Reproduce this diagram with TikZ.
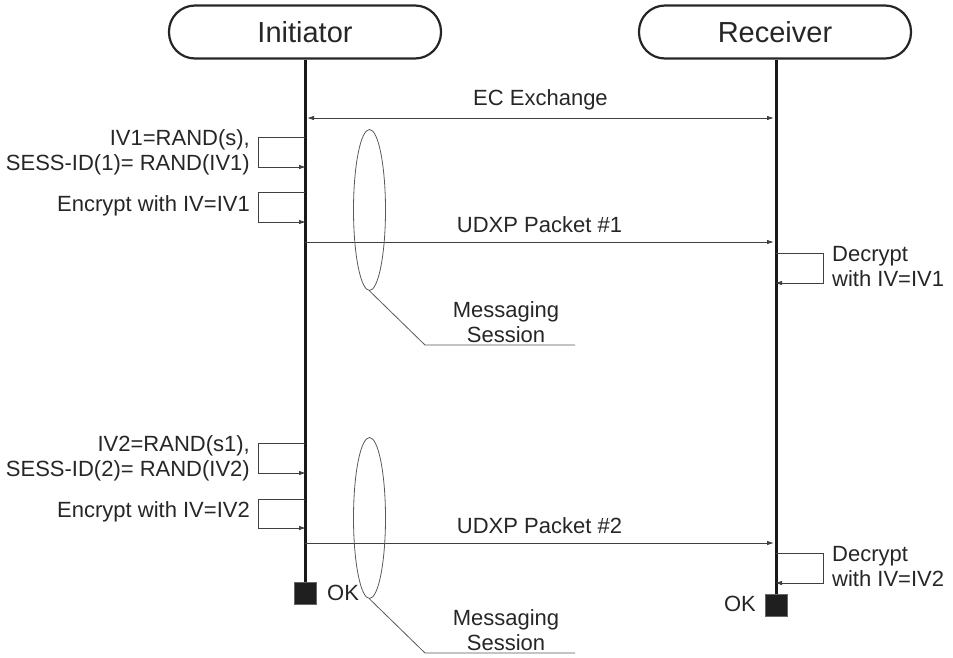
\documentclass[tikz,border=0pt]{standalone}
\usepackage{fontspec}
\setmainfont{Liberation Sans}
\usetikzlibrary{positioning,shapes.geometric,arrows.meta}

\begin{document}
\begin{tikzpicture}[x=1pt,y=-1pt,
  font=\fontsize{22}{25}\selectfont, text=black!85,
  party/.style={draw=black!85, line width=2.2pt, rounded corners=26pt,
    minimum width=272pt, minimum height=53pt, font=\fontsize{29}{32}\selectfont},
  life/.style={draw=black!90, line width=3pt},
  msg/.style={draw=black!75, line width=0.9pt, -{Latex[length=7pt,width=4.5pt]}},
  okbox/.style={fill=black!88, draw=black!60, minimum size=22pt, inner sep=0pt},
  sess/.style={draw=black!65, line width=0.8pt, ellipse, minimum width=32pt,
    minimum height=161pt, inner sep=0pt},
  lead/.style={draw=black!65, line width=0.8pt},
  note/.style={align=right, anchor=east, inner sep=0pt},
  rnote/.style={align=left, anchor=west, inner sep=0pt}]
\useasboundingbox (0,0) rectangle (953,657);

\def\xini{305}
\def\xrec{776}
\def\dloop{47}

% parties
\node[party] (ini) at (\xini,32) {Initiator};
\node[party] (rec) at (775,32) {Receiver};
\node[okbox] (iniend) at (\xini,593) {};
\node[okbox] (recend) at (\xrec,605) {};
\node[anchor=west, inner sep=0pt] (iniok) at (327,593) {OK};
\node[anchor=east, inner sep=0pt] (recok) at (756,604) {OK};

\draw[life] (ini.south) -- (iniend.north);
\draw[life] (\xrec,0 |- rec.south) -- (recend.north);

% EC exchange
\coordinate (ec0) at (\xini+2,118);
\coordinate (ec1) at (\xrec-2,118);
\draw[msg, {Latex[length=7pt,width=4.5pt]}-{Latex[length=7pt,width=4.5pt]}] (ec0) -- node[above=4pt] {EC Exchange} (ec1);

% first session
\coordinate (a1) at (\xini,137);
\coordinate (a1b) at (\xini+1,167);
\coordinate (b1) at (\xini,192);
\coordinate (b1b) at (\xini+1,222);
\node[note] (iv1) at (250,152) {IV1=RAND(s),\\SESS-ID(1)= RAND(IV1)};
\node[note] (enc1) at (250,206) {Encrypt with IV=IV1};
\draw[msg] (a1) -- ++(-\dloop,0) |- (a1b);
\draw[msg] (b1) -- ++(-\dloop,0) |- (b1b);

\coordinate (p1a) at (\xini,242);
\coordinate (p1b) at (\xrec-2,242);
\draw[msg] (p1a) -- node[above=6pt] {UDXP Packet \#1} (p1b);

\coordinate (d1) at (\xrec,253);
\coordinate (d1b) at (\xrec-1,283);
\draw[msg] (d1) -- ++(\dloop,0) |- (d1b);
\node[rnote] (dec1) at (832,267) {Decrypt\\with IV=IV1};

\node[sess] (ses1) at (369.5,210) {};
\coordinate (k1) at (425,345);
\coordinate (m1) at (575,345);
\draw[lead] (ses1.south) -- (k1) -- (m1);
\node[align=center, inner sep=0pt] (msg1) at (506,322) {Messaging\\Session};

% second session
\coordinate (a2) at (\xini,443);
\coordinate (a2b) at (\xini+1,473);
\coordinate (b2) at (\xini,499);
\coordinate (b2b) at (\xini+1,528);
\node[note] (iv2) at (250,458) {IV2=RAND(s1),\\SESS-ID(2)= RAND(IV2)};
\node[note] (enc2) at (250,512) {Encrypt with IV=IV2};
\draw[msg] (a2) -- ++(-\dloop,0) |- (a2b);
\draw[msg] (b2) -- ++(-\dloop,0) |- (b2b);

\coordinate (p2a) at (\xini,543);
\coordinate (p2b) at (\xrec-2,543);
\draw[msg] (p2a) -- node[above=6pt] {UDXP Packet \#2} (p2b);

\coordinate (d2) at (\xrec,553);
\coordinate (d2b) at (\xrec-1,583);
\draw[msg] (d2) -- ++(\dloop,0) |- (d2b);
\node[rnote] (dec2) at (832,567) {Decrypt\\with IV=IV2};

\node[sess] (ses2) at (369.5,518) {};
\coordinate (k2) at (425,653);
\coordinate (m2) at (575,653);
\draw[lead] (ses2.south) -- (k2) -- (m2);
\node[align=center, inner sep=0pt] (msg2) at (506,630) {Messaging\\Session};

\end{tikzpicture}
\end{document}
